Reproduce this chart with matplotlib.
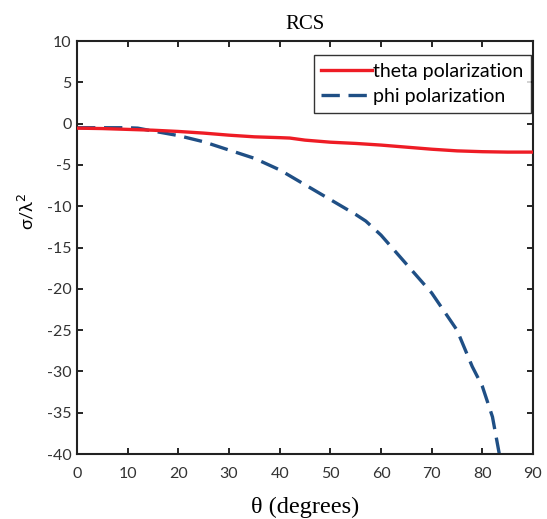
import matplotlib
matplotlib.use("Agg")
import matplotlib.pyplot as plt

plt.rcParams["axes.unicode_minus"] = False
plt.rcParams["font.family"] = ["Lato", "DejaVu Sans"]

theta_deg = [0, 5, 10, 15, 20, 25, 30, 35, 40, 42, 45, 50, 55, 60, 65, 70, 75, 80, 85, 90]
theta_pol = [-0.55, -0.6, -0.7, -0.8, -0.95, -1.15, -1.4, -1.6, -1.7, -1.75, -2.0, -2.25,
             -2.4, -2.6, -2.85, -3.1, -3.3, -3.4, -3.45, -3.45]

phi_deg = [0, 5, 10, 12, 15, 20, 25, 30, 35, 40, 45, 50, 55, 57, 60, 65, 70, 75, 78, 80, 82, 83.5]
phi_pol = [-0.5, -0.5, -0.5, -0.55, -0.9, -1.45, -2.2, -3.2, -4.2, -5.6, -7.4, -9.2, -11.0,
           -11.8, -13.5, -17.0, -20.5, -25.0, -29.4, -31.8, -35.5, -40.5]

xticks = [0, 10, 20, 30, 40, 50, 60, 70, 80, 90]
yticks = [10, 5, 0, -5, -10, -15, -20, -25, -30, -35, -40]

fig = plt.figure(figsize=(5.47, 5.19), dpi=100)
ax = fig.add_axes([0.1408, 0.1252, 0.8336, 0.7958])

ax.plot(theta_deg, theta_pol, color="#ee1c25", lw=2.4, label="theta polarization", zorder=3)
ax.plot(phi_deg, phi_pol, color="#1f4f85", lw=2.4, ls=(0, (5.5, 2.6)), label="phi polarization", zorder=2)

ax.set_xlim(0, 90)
ax.set_ylim(-40, 10)
ax.set_xticks(xticks)
ax.set_yticks(yticks)
ax.tick_params(direction="in", top=True, right=True, length=4, width=1.2,
               labelsize=11.5, labelcolor="#333333")
ax.tick_params(axis="x", pad=9)
ax.tick_params(axis="y", pad=4)
for s in ax.spines.values():
    s.set_linewidth(1.5)
    s.set_color("#222222")

ax.set_title("RCS", family="Liberation Serif", fontsize=15, pad=9)
ax.set_xlabel("θ (degrees)", family="Liberation Serif", fontsize=17.5, labelpad=12)
ax.set_ylabel("σ/λ$^2$", fontsize=13)
ax.yaxis.set_label_coords(-0.088, 0.588)

leg = ax.legend(loc="upper right", bbox_to_anchor=(1.0, 0.97), fontsize=14,
                frameon=True, fancybox=False, edgecolor="black", handlelength=2.6,
                handletextpad=0.05, borderpad=0.4, labelspacing=0.42, borderaxespad=0.1)
leg.get_frame().set_linewidth(1.0)

fig.savefig("out.png", dpi=100)
